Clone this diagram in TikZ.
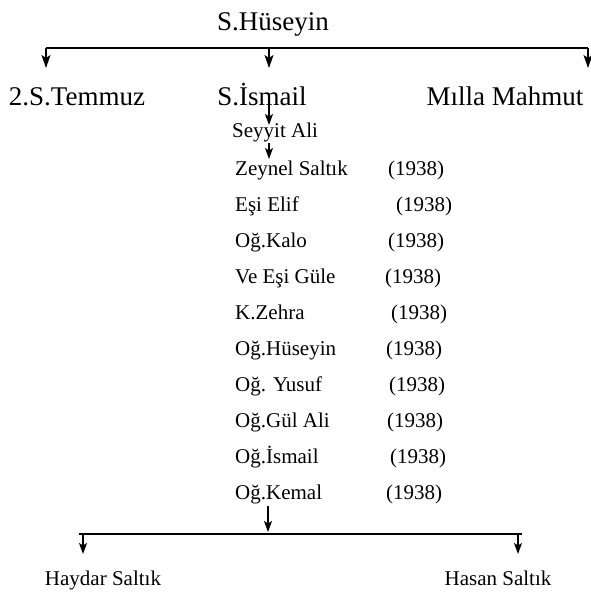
\documentclass[tikz,border=0pt]{standalone}
\usepackage{fontspec}
\setmainfont{Liberation Serif}
\usetikzlibrary{positioning,arrows.meta}

\begin{document}
\begin{tikzpicture}[x=1pt, y=-1pt,
    big/.style={inner sep=0pt, anchor=base, font=\fontsize{27}{30}\selectfont},
    small/.style={inner sep=0pt, anchor=base west, font=\fontsize{21}{24}\selectfont},
    bottom/.style={inner sep=0pt, anchor=base, font=\fontsize{21}{24}\selectfont},
    bar/.style={line width=2.8pt},
    arr/.style={-{Stealth[length=13pt, width=9pt, inset=3pt]}, line width=1.2pt},
    sarr/.style={-{Stealth[length=11pt, width=8pt, inset=2.5pt]}, line width=1.2pt}]
    \useasboundingbox (0,0) rectangle (590,592);

    % S.Huseyin and his three sons
    \node[big] (huseyin) at (273,30) {S.Hüseyin};
    \coordinate (topL) at (46,48);
    \coordinate (topM) at (269,48);
    \coordinate (topR) at (588,48);
    \draw[bar] (topL) -- (topR);

    \node[big] (temmuz) at (77,105) {2.S.Temmuz};
    \node[big] (ismail) at (262,105) {S.İsmail};
    \node[big] (mahmut) at (505,105) {Mılla Mahmut};
    \draw[arr, shorten >=37pt] (topL) -- (temmuz.base -| topL);
    \draw[arr, shorten >=37pt] (topM) -- (ismail.base -| topM);
    \draw[arr, shorten >=37pt] (topR) -- (mahmut.base -| topR);

    % line of S.Ismail
    \node[small] (seyyit) at (232,137) {Seyyit Ali};
    \draw[sarr, shorten <=-5pt, shorten >=12pt] (ismail.base -| topM) -- (seyyit.base -| topM);

    % family list with years
    \node[small] (zeynel) at (235,175) {Zeynel Saltık};
    \node[small] (yzeynel) at (388,175) {(1938)};
    \draw[sarr, shorten <=6pt, shorten >=16pt] (seyyit.base -| topM) -- (zeynel.base -| topM);

    \node[small] (elif) at (235,211) {Eşi Elif};
    \node[small] (yelif) at (396,211) {(1938)};

    \node[small] (kalo) at (235,247) {Oğ.Kalo};
    \node[small] (ykalo) at (388,247) {(1938)};

    \node[small] (gule) at (235,283) {Ve Eşi Güle};
    \node[small] (ygule) at (385,283) {(1938)};

    \node[small] (zehra) at (235,319) {K.Zehra};
    \node[small] (yzehra) at (391,319) {(1938)};

    \node[small] (oghuseyin) at (235,355) {Oğ.Hüseyin};
    \node[small] (yoghuseyin) at (386,355) {(1938)};

    \node[small] (yusuf) at (235,391) {Oğ. Yusuf};
    \node[small] (yyusuf) at (389,391) {(1938)};

    \node[small] (gulali) at (235,427) {Oğ.Gül Ali};
    \node[small] (ygulali) at (387,427) {(1938)};

    \node[small] (ogismail) at (235,463) {Oğ.İsmail};
    \node[small] (yogismail) at (390,463) {(1938)};

    \node[small] (kemal) at (235,499) {Oğ.Kemal};
    \node[small] (ykemal) at (386,499) {(1938)};

    % sons of Og.Kemal
    \coordinate (botL) at (83,534);
    \coordinate (botM) at (268,534);
    \coordinate (botR) at (518,534);
    \coordinate (barL) at (79,534);
    \coordinate (barR) at (522,534);
    \draw[bar] (barL) -- (barR);
    \draw[sarr, shorten <=7pt, shorten >=2pt] (kemal.base -| botM) -- (botM);

    \node[bottom] (haydar) at (103,585) {Haydar Saltık};
    \node[bottom] (hasan) at (498,585) {Hasan Saltık};
    \draw[sarr, shorten >=31pt] (botL) -- (haydar.base -| botL);
    \draw[sarr, shorten >=31pt] (botR) -- (hasan.base -| botR);
\end{tikzpicture}
\end{document}
